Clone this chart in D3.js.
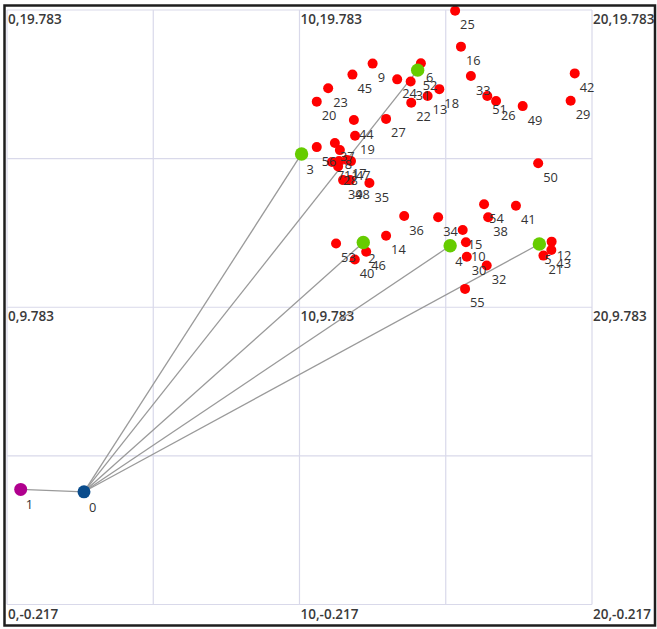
<!DOCTYPE html>
<html>
<head>
<meta charset="utf-8">
<script src="https://cdn.jsdelivr.net/npm/d3@7/dist/d3.min.js"></script>
<style>
  html, body { margin: 0; padding: 0; background: #fff; }
  svg { display: block; }
</style>
</head>
<body>
<svg id="chart" width="657" height="629"></svg>
<script>
// Corner tick values shown at grid intersections
const tickX = [0, 10, 20];
const tickY = [19.783, 9.783, -0.217];
const gridX = [0, 5, 10, 15, 20];
const gridY = [-0.217, 4.783, 9.783, 14.783, 19.783];

// Root (0) and its parent (1)
const rootIds = [0, 1];
const rootX = [2.632, 0.468];
const rootY = [3.575, 3.656];

// Hub nodes linked to the root
const hubIds = [2, 3, 4, 5, 52];
const hubX = [12.18, 10.07, 15.15, 18.20, 14.04];
const hubY = [11.96, 14.94, 11.85, 11.91, 17.76];

// Leaf nodes
const leafIds = [6, 7, 8, 9, 10, 11, 12, 13, 14, 15, 16, 17, 18, 19, 20, 21, 22, 23, 24, 25, 26, 27, 28, 29, 30, 31,
  32, 33, 34, 35, 36, 37, 38, 39, 40, 41, 42, 43, 44, 45, 46, 47, 48, 49, 50, 51, 53, 54, 55, 56];
const leafX = [14.15, 11.11, 11.38, 12.50, 15.69, 11.35, 18.62, 14.38, 12.96, 15.58, 15.52, 11.62, 14.78, 11.90, 10.59, 18.34,
  13.82, 10.98, 13.34, 15.32, 16.72, 12.96, 11.32, 19.27, 15.72, 13.80,
  16.40, 15.86, 14.74, 12.39, 13.58, 11.21, 16.45, 11.49, 11.89, 17.40, 19.41, 18.61, 11.86, 11.81, 12.28,
  11.76, 11.73, 17.63, 18.16, 16.42, 11.25, 16.31, 15.66, 10.59];
const leafY = [17.99, 14.67, 15.07, 17.98, 11.97, 14.70, 11.99, 16.89, 12.19, 12.38, 18.55, 14.74, 17.12, 15.55, 16.70, 11.52,
  16.66, 17.15, 17.45, 19.76, 16.72, 16.12, 14.52, 16.73, 11.48, 17.38,
  11.19, 17.56, 12.81, 13.96, 12.85, 15.31, 12.81, 14.06, 11.39, 13.20, 17.65, 11.71, 16.08, 17.61, 11.65,
  14.70, 14.06, 16.55, 14.63, 16.89, 11.93, 13.25, 10.40, 15.17];

// Links, as node id pairs
const linkSource = [0, 0, 0, 0, 0, 0];
const linkTarget = [1, 2, 3, 4, 5, 52];

const svg = d3.select("#chart");

const x = d3.scaleLinear().domain([0, 20]).range([7, 592]);
const y = d3.scaleLinear().domain([-0.217, 19.783]).range([604.5, 10]);

// Lookup of node positions by id
const pos = new Map();
rootIds.forEach((id, i) => pos.set(id, [rootX[i], rootY[i]]));
hubIds.forEach((id, i) => pos.set(id, [hubX[i], hubY[i]]));
leafIds.forEach((id, i) => pos.set(id, [leafX[i], leafY[i]]));

// Grid
const grid = svg.append("g").attr("stroke", "#d9d9ea").attr("stroke-width", 1.2);
grid.selectAll("line.gx").data(gridX).join("line")
  .attr("class", "gx")
  .attr("x1", d => x(d)).attr("x2", d => x(d))
  .attr("y1", y(19.783)).attr("y2", y(-0.217));
grid.selectAll("line.gy").data(gridY).join("line")
  .attr("class", "gy")
  .attr("y1", d => y(d)).attr("y2", d => y(d))
  .attr("x1", x(0)).attr("x2", x(20));

// Corner coordinate labels
const corners = [];
tickY.forEach(ty => tickX.forEach(tx => corners.push([tx, ty])));
svg.append("g")
  .selectAll("text").data(corners).join("text")
  .attr("x", d => x(d[0]) + 1)
  .attr("y", d => y(d[1]) + 14)
  .attr("font-family", "'Open Sans', sans-serif")
  .attr("font-size", 13.5)
  .attr("font-weight", 600)
  .attr("fill", "#3a3a3a")
  .text(d => `${d[0]},${d[1]}`);

// Links
svg.append("g")
  .selectAll("line").data(linkSource.map((s, i) => [s, linkTarget[i]])).join("line")
  .attr("x1", d => x(pos.get(d[0])[0])).attr("y1", d => y(pos.get(d[0])[1]))
  .attr("x2", d => x(pos.get(d[1])[0])).attr("y2", d => y(pos.get(d[1])[1]))
  .attr("stroke", "#9a9a9a").attr("stroke-width", 1.3);

// Nodes
const nodes = [];
leafIds.forEach((id, i) => nodes.push({ id, x: leafX[i], y: leafY[i], r: 5, c: "#ff0000" }));
hubIds.forEach((id, i) => nodes.push({ id, x: hubX[i], y: hubY[i], r: 6.7, c: "#66cc00" }));
nodes.push({ id: 1, x: rootX[1], y: rootY[1], r: 6.5, c: "#b0008e" });
nodes.push({ id: 0, x: rootX[0], y: rootY[0], r: 6.5, c: "#0a4c8c" });

svg.append("g")
  .selectAll("circle").data(nodes).join("circle")
  .attr("cx", d => x(d.x)).attr("cy", d => y(d.y))
  .attr("r", d => d.r).attr("fill", d => d.c);

svg.append("g")
  .selectAll("text").data(nodes).join("text")
  .attr("x", d => x(d.x) + 5)
  .attr("y", d => y(d.y) + 18.5 + (d.r > 6 ? 1.5 : 0))
  .attr("font-family", "'Open Sans', sans-serif")
  .attr("font-size", 12.8)
  .attr("font-weight", 500)
  .attr("fill", "#333")
  .text(d => d.id);

// Outer frame
svg.append("rect")
  .attr("x", 4.5).attr("y", 5.5).attr("width", 650.5).attr("height", 620)
  .attr("fill", "none").attr("stroke", "#1e1e1e").attr("stroke-width", 2.5);
</script>
</body>
</html>
